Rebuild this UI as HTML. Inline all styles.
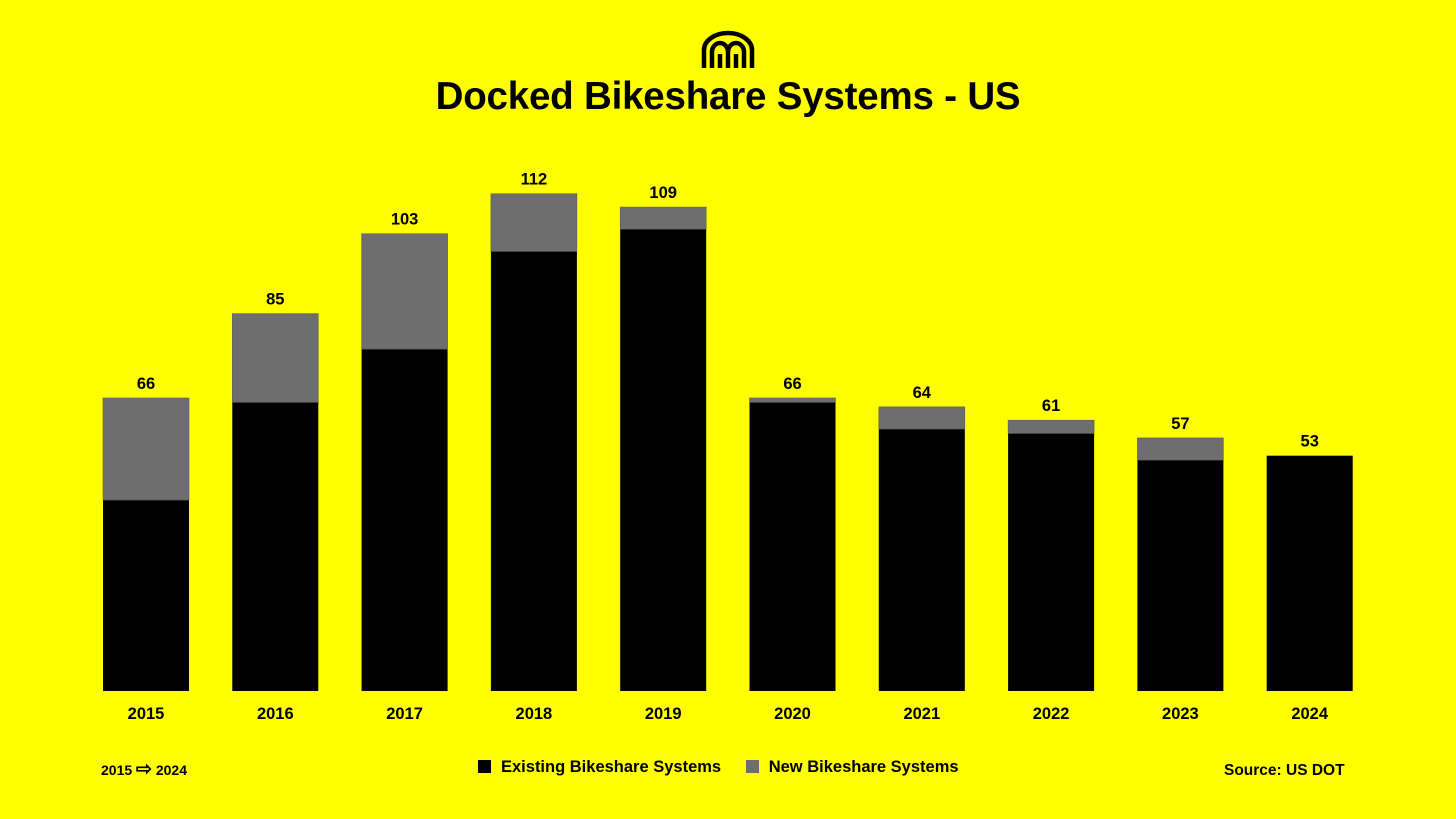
<!DOCTYPE html>
<html><head><meta charset="utf-8"><style>
html,body{margin:0;padding:0;background:#ffff00;}
body{width:1456px;height:819px;overflow:hidden;position:relative;font-family:"Liberation Sans",sans-serif;}
.t{position:absolute;font-weight:bold;color:#000;}
</style></head><body>
<svg style="position:absolute;left:700px;top:30px" width="56" height="40" viewBox="0 0 56 40">
<g fill="none" stroke="#000" stroke-width="4.5">
<path d="M4 38 V20 A24 17 0 0 1 52 20 V38"/>
<path d="M12 38 V22 A8 9 0 0 1 28 22 V38"/>
<path d="M28 22 A8 9 0 0 1 44 22 V38"/>
<path d="M20 38 V24"/><path d="M36 38 V24"/>
</g></svg>
<div class="t" style="left:0;width:1456px;top:75px;text-align:center;font-size:38.5px;letter-spacing:-0.2px;">Docked Bikeshare Systems - US</div>
<svg id="chart" style="position:absolute;left:0;top:0" width="1456" height="740"></svg>
<div class="t" style="left:101px;top:762px;font-size:14px;">2015 <span style="font-size:19px;line-height:14px">⇨</span> 2024</div>
<div style="position:absolute;left:478px;top:758px;font-size:16.5px;font-weight:bold;">
<span><span style="display:inline-block;width:13px;height:13px;background:#000;vertical-align:-1px;margin-right:10px"></span>Existing Bikeshare Systems</span>
<span style="margin-left:20px"><span style="display:inline-block;width:13px;height:13px;background:#6e6e6e;vertical-align:-1px;margin-right:10px"></span>New Bikeshare Systems</span>
</div>
<div class="t" style="left:1224px;top:762px;font-size:15.5px;">Source: US DOT</div>
<script>
const years=["2015","2016","2017","2018","2019","2020","2021","2022","2023","2024"];
const existing=[43,65,77,99,104,65,59,58,52,53];
const newSys=[23,20,26,13,5,1,5,3,5,0];
const totals=[66,85,103,112,109,66,64,61,57,53];
const NS="http://www.w3.org/2000/svg";
const svg=document.getElementById('chart');
const base=691, ppu=4.44, x0=146, step=129.3, bw=86;
const y=v=>base-v*ppu;
const xc=i=>x0+i*step;
function mk(t,a){const e=document.createElementNS(NS,t);for(const k in a)e.setAttribute(k,a[k]);svg.appendChild(e);return e;}
years.forEach((yr,i)=>{
  const r1=mk('rect',{x:xc(i)-bw/2,y:y(existing[i]),width:bw,height:existing[i]*ppu,fill:'#000'});
  
  
  if(newSys[i]>0){
    const r2=mk('rect',{x:xc(i)-bw/2,y:y(existing[i]+newSys[i]),width:bw,height:newSys[i]*ppu,fill:'#6e6e6e',stroke:'#555','stroke-width':0.5});
    
    
  }
  const lt=mk('text',{x:xc(i),y:y(totals[i])-9,'text-anchor':'middle','font-size':16.5,'font-weight':'bold','font-family':'Liberation Sans, sans-serif'});
  lt.textContent=totals[i];
  
  
  const xt=mk('text',{x:xc(i),y:719,'text-anchor':'middle','font-size':16.5,'font-weight':'bold','font-family':'Liberation Sans, sans-serif'});
  xt.textContent=yr;
  
  
});
</script>
</body></html>
